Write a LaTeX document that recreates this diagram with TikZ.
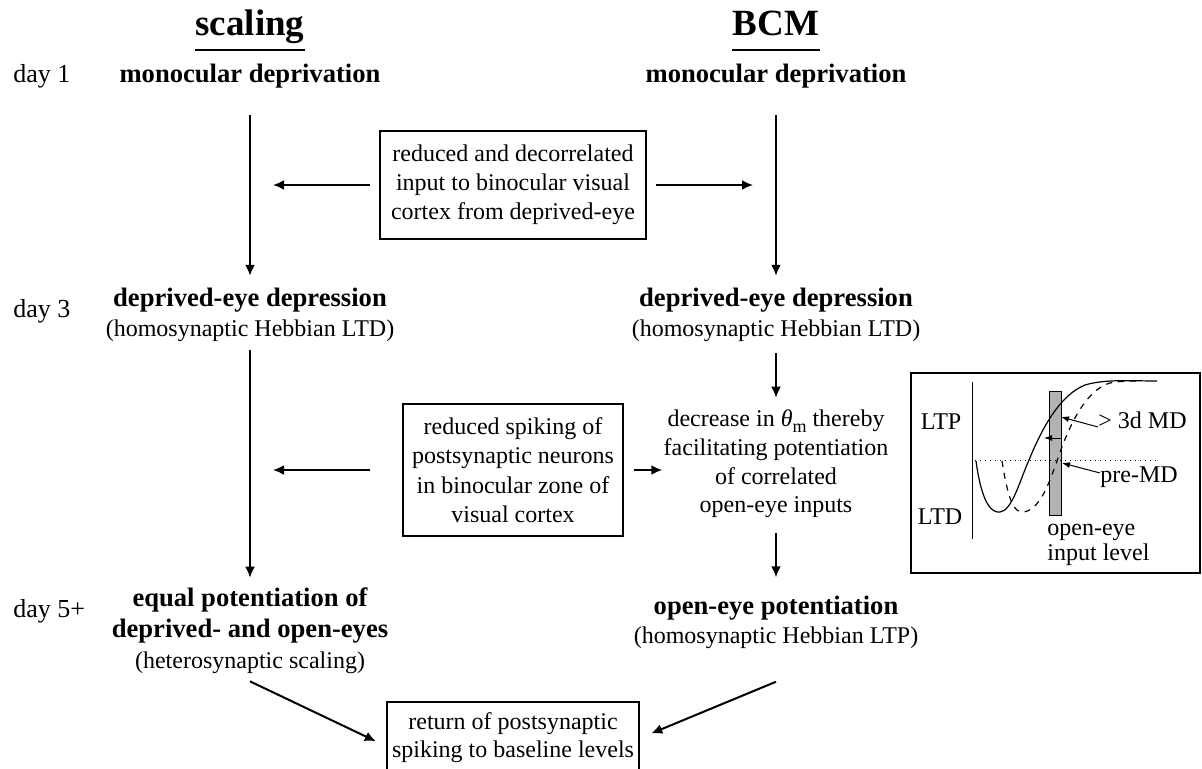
\documentclass[tikz,border=0pt]{standalone}
\usepackage{fontspec}
\setmainfont{Liberation Serif}
\usetikzlibrary{arrows.meta,positioning}
\newcommand\bhd{\fontsize{13.3}{15}\selectfont\bfseries}

\begin{document}
\begin{tikzpicture}[x=0.5pt, y=-0.5pt, >={Latex[length=5.5pt,width=5pt]},
  every node/.style={inner sep=0pt, font=\fontsize{12}{14.5}\selectfont},
  head/.style={font=\fontsize{18.5}{20}\selectfont\bfseries},
  daylabel/.style={anchor=base west, font=\fontsize{13}{15}\selectfont},
  stage/.style={align=center, font=\fontsize{12}{15}\selectfont},
  note/.style={draw, line width=1.2pt, align=center},
  flow/.style={->, line width=1pt},
  tiny/.style={-{Latex[length=4pt,width=3pt]}, line width=0.5pt}]
  \useasboundingbox (0,0) rectangle (1202,769);
    % column heads
    \node (SCALING) [head, anchor=base] at (250,36) {scaling};
    \node (BCM) [head, anchor=base] at (776,36) {BCM};
    \draw[line width=1pt] ([yshift=-7pt]SCALING.base west) -- ([yshift=-7pt]SCALING.base east);
    \draw[line width=1pt] ([yshift=-7pt]BCM.base west) -- ([yshift=-7pt]BCM.base east);
    \node (DAY1) [daylabel] at (13,83) {day 1};
    \node (DAY3) [daylabel] at (13,318) {day 3};
    \node (DAY5) [daylabel] at (13,617) {day 5+};
    % scaling column
    \node (MDL) [anchor=base] at (250,83) {\bhd monocular deprivation};
    \node (DEPL) [stage] at (250,315) {{\bhd deprived-eye depression}\\(homosynaptic Hebbian LTD)};
    \node (EQL) [stage, font=\fontsize{12}{15.5}\selectfont] at (250,631)
      {{\bhd equal potentiation of}\\{\bhd deprived- and open-eyes}\\(heterosynaptic scaling)};
    % BCM column
    \node (MDR) [anchor=base] at (776,83) {\bhd monocular deprivation};
    \node (DEPR) [stage] at (776,315) {{\bhd deprived-eye depression}\\(homosynaptic Hebbian LTD)};
    \node (DEC) [stage, font=\fontsize{12}{14.3}\selectfont] at (776,464)
      {decrease in \textit{θ}\raisebox{-3pt}{\fontsize{9}{9}\selectfont m} thereby\\facilitating potentiation\\of correlated\\open-eye inputs};
    \node (OPENR) [stage, font=\fontsize{12}{14.5}\selectfont] at (776,622) {{\bhd open-eye potentiation}\\(homosynaptic Hebbian LTP)};
    % boxes in the middle
    \node (NOTE1) [note, minimum width=133pt, minimum height=54pt] at (513,185)
      {reduced and decorrelated\\input to binocular visual\\cortex from deprived-eye};
    \node (NOTE2) [note, minimum width=110pt, minimum height=66pt, font=\fontsize{12}{14.75}\selectfont] at (513,470)
      {reduced spiking of\\postsynaptic neurons\\in binocular zone of\\visual cortex};
    \node (RET) [note, minimum width=126pt, minimum height=36pt, font=\fontsize{12}{14}\selectfont] at (513,738)
      {return of postsynaptic\\spiking to baseline levels};
    % arrows
    \draw[flow, shorten <=13pt, shorten >=6pt] (MDL) -- (DEPL);
    \draw[flow, shorten <=13pt, shorten >=6pt] (MDR) -- (DEPR);
    \draw[flow, shorten <=4.5pt, shorten >=11.5pt] (NOTE1.west) -- (NOTE1.west -| MDL.south);
    \draw[flow, shorten <=4.5pt, shorten >=11.5pt] (NOTE1.east) -- (NOTE1.east -| MDR.south);
    \draw[flow, shorten <=4pt, shorten >=5pt] (DEPL) -- (EQL);
    \draw[flow, shorten <=16pt, shorten >=11.5pt] (NOTE2.west) -- (NOTE2.west -| MDL.south);
    \draw[flow, shorten <=5pt, shorten >=0.5pt] (NOTE2.east) -- (NOTE2.east -| DEC.west);
    \draw[flow, shorten <=5.5pt, shorten >=6pt] (DEPR) -- (DEC);
    \draw[flow, shorten <=7.5pt, shorten >=9pt] (DEC) -- (OPENR);
    \draw[flow, shorten >=5.5pt] ([yshift=-3.5pt]EQL.south) -- ([yshift=-4pt]RET.west);
    \draw[flow, shorten >=6pt] ([yshift=-16.5pt]OPENR.south) -- (RET.east);
    % inset plot
    \node (PLOT) [draw, line width=1.2pt, minimum width=144.5pt, minimum height=100pt] at (1055.5,473) {};
    \draw[fill=black!30, line width=0.4pt] (1049,391) rectangle (1061,515);
    \draw[line width=0.5pt] (972,382) -- (972,539);
    \draw[dotted, line width=0.5pt] (975,460) -- (1157,460);
    \draw[line width=0.6pt] (976,461) .. controls (982,505) and (992,513) .. (1000,512)
      .. controls (1012,511) and (1020,480) .. (1029,460)
      .. controls (1042,428) and (1060,395) .. (1085,385)
      .. controls (1105,379) and (1130,381) .. (1157,381);
    \draw[dashed, line width=0.6pt] (1002,461) .. controls (1008,500) and (1014,512) .. (1022,512)
      .. controls (1040,512) and (1050,480) .. (1057,461)
      .. controls (1068,428) and (1085,390) .. (1110,383)
      .. controls (1120,381) and (1130,381) .. (1140,381);
    \node (LTP) at (941,422) {LTP};
    \node (LTD) at (940,517) {LTD};
    \node (MD3) [anchor=west] at (1098,420) {> 3d MD};
    \node (PRE) [anchor=west] at (1100,477) {pre-MD};
    \node (INPUT) [anchor=west, align=left, font=\fontsize{12}{12.5}\selectfont] at (1047,545) {open-eye\\input level};
    \coordinate (NEW) at (1061,417);
    \coordinate (OLD) at (1062,463);
    \coordinate (SHFROM) at (1062,438);
    \coordinate (SHTO) at (1044,438);
    \draw[tiny] ([yshift=-3.5pt]MD3.west) -- (NEW);
    \draw[tiny] ([yshift=2pt]PRE.west) -- (OLD);
    \draw[tiny] (SHFROM) -- (SHTO);
  \end{tikzpicture}
\end{document}
